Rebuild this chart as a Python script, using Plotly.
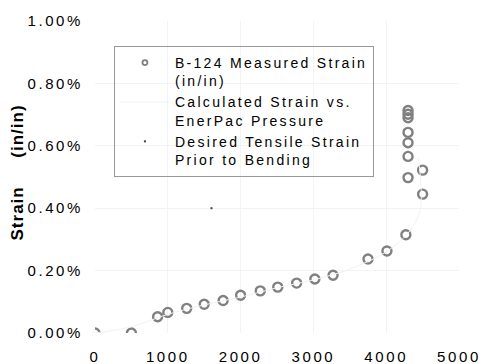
import plotly.graph_objects as go

# Measured strain (B-124)
meas_pressure = [0, 500, 860, 1000, 1260, 1500, 1760, 2000, 2270, 2510, 2770, 3020, 3270,
                 3750, 4010, 4270, 4300, 4300, 4300, 4300, 4300, 4300, 4300, 4500, 4500]
meas_strain = [0.0000, 0.0000, 0.00052, 0.00066, 0.00079, 0.00092, 0.00104, 0.00121, 0.00135,
               0.00147, 0.00160, 0.00173, 0.00185, 0.00237, 0.00263, 0.00315, 0.00498,
               0.00566, 0.00610, 0.00643, 0.00690, 0.00701, 0.00713, 0.00445, 0.00522]

# Calculated strain vs. EnerPac pressure (faint curve)
calc_pressure = [0, 500, 1000, 1500, 2000, 2500, 3000, 3500, 4000, 4300, 4450, 4480, 4470, 4440]
calc_strain = [0.0, 0.0002, 0.0006, 0.0009, 0.00115, 0.00145, 0.0017, 0.00205, 0.0026,
               0.0032, 0.0038, 0.0042, 0.0050, 0.0056]

# Desired tensile strain prior to bending
desired_pressure = [1600]
desired_strain = [0.0040]

x_ticks = [0, 1000, 2000, 3000, 4000, 5000]
y_ticks = [0, 0.002, 0.004, 0.006, 0.008, 0.010]
y_title = "<b>Strain\u00a0\u00a0\u00a0\u00a0\u00a0(in/in)</b>"

FONT = "Liberation Sans, Arial, sans-serif"
GRAY = "#808080"

fig = go.Figure()
fig.add_trace(go.Scatter(
    x=meas_pressure, y=meas_strain, mode="markers", showlegend=False,
    marker=dict(symbol="circle-open", size=9, color=GRAY, line=dict(width=2.4, color=GRAY)),
))
# legend entry for measured strain (smaller symbol, as in the original legend)
fig.add_trace(go.Scatter(
    x=[None], y=[None], mode="markers",
    name="B-124 Measured Strain<br>(in/in)",
    marker=dict(symbol="circle-open", size=5, color=GRAY, line=dict(width=1.8, color=GRAY)),
))
fig.add_trace(go.Scatter(
    x=calc_pressure, y=calc_strain, mode="lines",
    name="Calculated Strain vs.<br>EnerPac Pressure",
    line=dict(color="#f2f2f2", width=1, shape="spline"),
))
fig.add_trace(go.Scatter(
    x=desired_pressure, y=desired_strain, mode="markers",
    name="Desired Tensile Strain<br>Prior to Bending",
    marker=dict(symbol="square", size=2, color="#404040"),
))

fig.update_layout(
    width=486, height=364,
    margin=dict(l=95, r=27, t=21, b=31, autoexpand=False),
    paper_bgcolor="white", plot_bgcolor="white",
    font=dict(family=FONT, size=14, color="#000000"),
    showlegend=True,
    legend=dict(
        x=0.052, y=0.92, xanchor="left", yanchor="top",
        bordercolor="#999999", borderwidth=1, bgcolor="rgba(255,255,255,0)",
        font=dict(family=FONT, size=14, color="#000000"),
        itemwidth=50, tracegroupgap=0, valign="top",
    ),
    xaxis=dict(
        range=[0, 5000], tickvals=x_ticks, showgrid=True, gridcolor="#f3f3f3",
        zeroline=False, showline=False, ticks="", ticklabelstandoff=13,
        tickfont=dict(size=15), automargin=False,
    ),
    yaxis=dict(
        range=[0, 0.010], tickvals=y_ticks, tickformat=".2%", showgrid=True,
        gridcolor="#f3f3f3", zeroline=False, showline=False, ticks="",
        ticklabelstandoff=11, tickfont=dict(size=15), automargin=False,
    ),
    annotations=[dict(
        text=y_title, textangle=-90, xref="paper", yref="paper",
        x=-0.212, y=0.514, xanchor="center", yanchor="middle", showarrow=False,
        font=dict(family=FONT, size=17, color="#000000"),
    )],
)

post = """
document.body.style.margin = '0';
var s = document.createElement('style');
s.innerHTML = '.legendtext {letter-spacing: 2.3px;} .xtick text, .ytick text {letter-spacing: 2.6px;} .annotation-text {letter-spacing: 1px;}';
document.head.appendChild(s);
var gd = document.getElementById('{plot_id}');
Plotly.relayout(gd, {'legend.font.family': 'Liberation Sans, Arial'});
"""

fig.write_html("out.html", post_script=post, config={"displayModeBar": False})
